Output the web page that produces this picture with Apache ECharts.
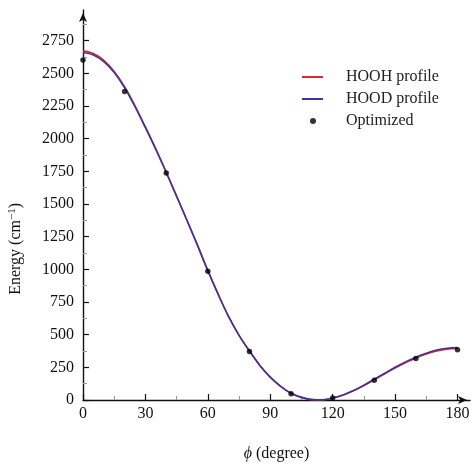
<!DOCTYPE html>
<html>
<head>
<meta charset="utf-8">
<script src="https://cdn.jsdelivr.net/npm/echarts@6/dist/echarts.min.js"></script>
<style>
  html, body { margin: 0; padding: 0; background: #fff; }
  #chart { width: 474px; height: 467px; }
</style>
</head>
<body>
<div id="chart"></div>
<script>
// profile curves, every 5 degrees
const profileAngles = [0, 5, 10, 15, 20, 25, 30, 35, 40, 45, 50, 55, 60, 65, 70, 75, 80, 85, 90,
  95, 100, 105, 110, 115, 120, 125, 130, 135, 140, 145, 150, 155, 160, 165, 170, 175, 180];
const hoohProfile = [2672, 2652, 2600, 2515, 2398, 2252, 2090, 1922, 1745, 1560, 1375, 1185, 990,
  808, 638, 495, 375, 265, 175, 105, 52, 20, 3, 1, 15, 38, 70, 110, 155, 200, 245, 285, 322, 352,
  375, 389, 394];
const hoodProfile = [2660, 2641, 2590, 2506, 2390, 2245, 2084, 1917, 1741, 1558, 1374, 1185, 990,
  808, 638, 495, 375, 265, 175, 105, 52, 20, 3, 1, 15, 39, 72, 113, 159, 205, 251, 292, 328, 358,
  382, 396, 401];

// optimized points
const optAngles = [0, 20, 40, 60, 80, 100, 120, 140, 160, 180];
const optEnergy = [2602, 2362, 1738, 985, 372, 48, 15, 152, 317, 385];

const xMajorTicks = [0, 30, 60, 90, 120, 150, 180];
const xMinorTicks = [15, 45, 75, 105, 135, 165];
const yMajorTicks = [0, 250, 500, 750, 1000, 1250, 1500, 1750, 2000, 2250, 2500, 2750];
const yMinorTicks = [125, 375, 625, 875, 1125, 1375, 1625, 1875, 2125, 2375, 2625, 2875];

const seriesNames = ['HOOH profile', 'HOOD profile', 'Optimized'];

const FONT = '"Liberation Serif", "DejaVu Serif", serif';
const X_MAX = 186;
const Y_MAX = 2985;

const pairs = (xs, ys) => xs.map((x, i) => [x, ys[i]]);
const plain = v => String(v);

const chart = echarts.init(document.getElementById('chart'), null, { renderer: 'canvas' });

const majorX = {
  type: 'value', gridIndex: 0, min: 0, max: X_MAX, position: 'bottom',
  axisLine: { show: true, symbol: ['none', 'arrow'], symbolSize: [6, 9], symbolOffset: [0, -3],
    lineStyle: { color: '#111', width: 1.4 } },
  axisTick: { show: true, inside: true, length: 6, customValues: xMajorTicks,
    lineStyle: { color: '#111', width: 1.2 } },
  axisLabel: { show: true, customValues: xMajorTicks, formatter: plain, margin: 6, color: '#111',
    fontFamily: FONT, fontSize: 16 },
  splitLine: { show: false },
  name: '{i|ϕ} (degree)', nameLocation: 'middle', nameGap: 54,
  nameTextStyle: { fontFamily: FONT, fontSize: 16, color: '#111', verticalAlign: 'middle',
    rich: { i: { fontFamily: FONT, fontSize: 16, fontStyle: 'italic', color: '#111' } } }
};
const minorX = {
  type: 'value', gridIndex: 0, min: 0, max: X_MAX, position: 'bottom',
  axisLine: { show: false },
  axisTick: { show: true, inside: true, length: 4, customValues: xMinorTicks,
    lineStyle: { color: '#999', width: 1 } },
  axisLabel: { show: false },
  splitLine: { show: false }
};
const majorY = {
  type: 'value', gridIndex: 0, min: 0, max: Y_MAX, position: 'left',
  axisLine: { show: true, symbol: ['none', 'arrow'], symbolSize: [6, 9], symbolOffset: [0, -3],
    lineStyle: { color: '#111', width: 1.4 } },
  axisTick: { show: true, inside: true, length: 6, customValues: yMajorTicks,
    lineStyle: { color: '#111', width: 1.2 } },
  axisLabel: { show: true, customValues: yMajorTicks, formatter: plain, margin: 9, color: '#111',
    fontFamily: FONT, fontSize: 16 },
  splitLine: { show: false }
};
const minorY = {
  type: 'value', gridIndex: 0, min: 0, max: Y_MAX, position: 'left',
  axisLine: { show: false },
  axisTick: { show: true, inside: true, length: 4, customValues: yMinorTicks,
    lineStyle: { color: '#999', width: 1 } },
  axisLabel: { show: false },
  splitLine: { show: false }
};

const option = {
  animation: false,
  backgroundColor: '#fff',
  grid: { left: 83, right: 4, top: 10, bottom: 63, containLabel: false },
  xAxis: [majorX, minorX],
  yAxis: [majorY, minorY],
  legend: [
    {
      data: [
        { name: seriesNames[0], icon: 'rect', itemStyle: { color: '#e3262b' } },
        { name: seriesNames[1], icon: 'rect', itemStyle: { color: '#3a369f' } }
      ],
      orient: 'vertical', left: 302, top: 69, padding: 0,
      itemWidth: 21, itemHeight: 2, itemGap: 6,
      textStyle: { fontFamily: FONT, fontSize: 16, lineHeight: 16, color: '#222',
        padding: [0, 0, 0, 18] }
    },
    {
      data: [{ name: seriesNames[2], icon: 'circle' }],
      orient: 'vertical', left: 310, top: 113, padding: 0,
      itemWidth: 6, itemHeight: 6,
      textStyle: { fontFamily: FONT, fontSize: 16, lineHeight: 16, color: '#222',
        padding: [0, 0, 0, 25] }
    }
  ],
  graphic: [
    {
      type: 'text', left: 7, top: 203, rotation: Math.PI / 2,
      style: {
        text: 'Energy (cm{sup|−1})',
        fontFamily: FONT, fontSize: 16, fill: '#111',
        rich: { sup: { fontFamily: FONT, fontSize: 11, fill: '#111', verticalAlign: 'top', padding: [0, 0, 6, 0] } }
      }
    }
  ],
  series: [
    {
      name: seriesNames[0], type: 'line', xAxisIndex: 0, yAxisIndex: 0,
      data: pairs(profileAngles, hoohProfile), smooth: 0.35, symbol: 'none',
      lineStyle: { color: '#e3262b', width: 1.6 }, itemStyle: { color: '#e3262b' }, z: 2
    },
    {
      name: seriesNames[1], type: 'line', xAxisIndex: 0, yAxisIndex: 0,
      data: pairs(profileAngles, hoodProfile), smooth: 0.35, symbol: 'none',
      lineStyle: { color: '#3a369f', width: 1.6 }, itemStyle: { color: '#3a369f' }, z: 3
    },
    {
      name: seriesNames[2], type: 'scatter', xAxisIndex: 0, yAxisIndex: 0,
      data: pairs(optAngles, optEnergy), symbol: 'circle', symbolSize: 5.5,
      itemStyle: { color: '#000' }, z: 4
    }
  ]
};

chart.setOption(option);
</script>
</body>
</html>
